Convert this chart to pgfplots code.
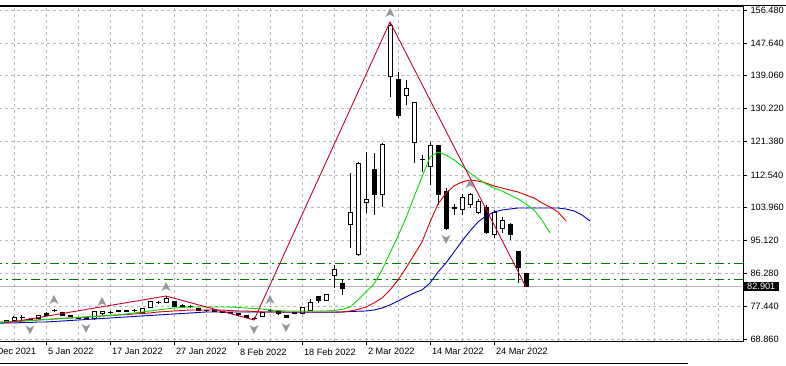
\documentclass[border=0pt]{standalone}
\usepackage{pgfplots}
\pgfplotsset{compat=1.18}
\usepackage{pgfplotstable}
\usepackage{fontspec}
\setmainfont{Liberation Sans}
\definecolor{gridc}{RGB}{185,185,185}
\definecolor{lipsc}{RGB}{0,220,0}
\definecolor{teethc}{RGB}{215,0,0}
\definecolor{jawc}{RGB}{0,0,185}
\definecolor{zzc}{RGB}{200,0,40}
\definecolor{levc}{RGB}{0,125,0}
\definecolor{fracc}{RGB}{150,150,160}
\newcommand{\tf}{\fontsize{9.2}{11}\selectfont}
\pgfdeclareplotmark{fup}{%
  \pgfpathmoveto{\pgfqpoint{0pt}{5pt}}%
  \pgfpathlineto{\pgfqpoint{4.5pt}{-4pt}}%
  \pgfpathlineto{\pgfqpoint{0pt}{-1.5pt}}%
  \pgfpathlineto{\pgfqpoint{-4.5pt}{-4pt}}%
  \pgfpathclose\pgfusepathqfill}
\pgfdeclareplotmark{fdown}{%
  \pgfpathmoveto{\pgfqpoint{0pt}{-5pt}}%
  \pgfpathlineto{\pgfqpoint{4.5pt}{4pt}}%
  \pgfpathlineto{\pgfqpoint{0pt}{1.5pt}}%
  \pgfpathlineto{\pgfqpoint{-4.5pt}{4pt}}%
  \pgfpathclose\pgfusepathqfill}

\pgfplotstableread{
i O H L C
-5 73.25 73.92 73.12 73.79
-4 73.73 74.99 73.65 74.53
-3 74.60 75.25 73.92 74.68
-2 74.08 74.45 73.79 74.14
-1 74.37 75.12 74.32 74.99
0 75.70 76.13 75.12 75.25
1 76.35 76.85 75.92 76.45
2 75.97 76.13 74.99 75.07
3 75.05 75.20 74.80 74.95
4 74.45 74.60 74.20 74.35
5 74.50 74.60 74.20 74.30
6 74.19 76.32 74.05 76.13
7 75.52 76.32 75.38 76.13
8 75.93 76.40 75.60 76.01
9 76.05 76.70 75.95 76.58
10 76.58 76.70 75.95 76.05
11 76.36 76.80 76.00 76.44
12 75.97 77.20 75.85 77.04
13 77.20 78.90 77.10 78.79
14 78.49 78.90 78.10 78.57
15 78.53 80.31 78.40 79.70
16 78.79 79.00 77.30 77.46
17 77.91 78.10 77.20 77.30
18 77.42 77.80 77.10 77.50
19 76.85 77.00 76.30 76.40
20 76.36 76.70 76.10 76.44
21 76.77 76.90 76.00 76.13
22 76.25 76.40 75.90 76.00
23 76.00 76.10 75.60 75.75
24 75.60 75.80 75.10 75.30
25 75.00 75.20 74.40 74.60
26 74.30 74.80 73.92 74.20
27 74.72 75.90 74.60 75.86
28 76.35 76.90 76.00 76.45
29 76.13 76.30 75.30 75.52
30 74.99 75.20 74.40 74.64
31 75.52 76.00 75.40 75.86
32 75.52 77.30 75.40 77.12
33 76.58 79.51 76.50 78.45
34 80.05 80.31 78.45 78.98
35 78.98 80.71 78.85 80.58
36 85.90 88.57 82.44 87.24
37 83.51 84.84 80.58 82.44
38 99.22 113.07 93.10 102.68
39 91.23 116.00 90.96 115.73
40 105.08 118.66 102.42 105.88
41 114.13 118.39 101.88 107.21
42 107.21 121.06 104.02 120.79
43 138.64 153.28 133.31 152.48
44 138.10 139.97 127.72 128.25
45 133.84 137.83 131.20 135.70
46 121.06 131.98 115.73 131.71
47 116.60 117.86 113.33 116.72
48 114.93 121.32 109.87 120.26
49 120.26 120.53 104.55 107.21
50 108.01 109.07 97.89 98.42
51 103.70 104.81 101.88 103.80
52 103.48 107.47 101.88 106.41
53 104.81 107.74 103.75 107.21
54 102.68 106.14 102.15 105.61
55 103.75 104.55 96.82 97.09
56 96.56 103.22 95.76 102.42
57 98.42 101.35 97.09 100.29
58 99.22 99.75 95.23 96.56
59 92.03 92.03 83.77 87.77
60 86.17 86.17 82.70 82.90
}\candles

\pgfplotstableread{
i v
-6 73.30
-5 73.39
-4 73.52
-3 73.65
-2 73.79
-1 73.92
0 74.05
1 74.19
2 74.32
3 74.45
4 74.59
5 74.72
6 74.85
7 74.99
8 75.12
9 75.25
10 75.52
11 75.78
12 76.05
13 76.32
14 76.58
15 76.85
16 77.12
17 77.25
18 77.38
19 77.38
20 77.38
21 77.38
22 77.38
23 77.38
24 77.25
25 77.12
26 76.98
27 76.85
28 76.58
29 76.45
30 76.32
31 76.32
32 76.32
33 76.32
34 76.32
35 76.32
36 76.45
37 76.72
38 77.38
39 79.25
40 81.38
41 83.51
42 87.24
43 91.76
44 96.29
45 101.08
46 106.68
47 112.00
48 117.33
49 118.66
50 117.86
51 116.53
52 114.93
53 113.07
54 111.47
55 110.14
56 109.07
57 108.28
58 107.21
59 106.15
60 104.81
61 103.22
62 100.55
63 97.09
}\lips

\pgfplotstableread{
i v
-6 73.30
-5 73.39
-4 73.52
-3 73.65
-2 73.79
-1 73.92
0 74.05
1 74.19
2 74.32
3 74.45
4 74.59
5 74.72
6 74.85
7 74.99
8 75.12
9 75.25
10 75.39
11 75.52
12 75.65
13 75.78
14 76.05
15 76.18
16 76.32
17 76.45
18 76.58
19 76.58
20 76.58
21 76.58
22 76.58
23 76.45
24 76.32
25 76.32
26 76.18
27 76.05
28 76.05
29 76.05
30 76.05
31 76.05
32 76.05
33 76.05
34 76.05
35 76.05
36 76.05
37 76.05
38 76.32
39 76.72
40 77.38
41 78.45
42 79.78
43 81.91
44 84.57
45 87.77
46 91.23
47 94.69
48 100.02
49 104.81
50 107.74
51 109.61
52 110.67
53 111.21
54 110.94
55 110.41
56 109.61
57 109.07
58 108.54
59 108.01
60 107.21
61 106.41
62 105.08
63 104.01
64 102.68
65 100.29
}\teeth

\pgfplotstableread{
i v
-6 73.05
-5 73.12
-4 73.12
-3 73.25
-2 73.25
-1 73.39
0 73.39
1 73.52
2 73.65
3 73.79
4 73.92
5 74.05
6 74.19
7 74.32
8 74.45
9 74.59
10 74.72
11 74.85
12 74.99
13 75.12
14 75.25
15 75.39
16 75.52
17 75.65
18 75.78
19 75.92
20 76.05
21 76.05
22 76.05
23 76.05
24 76.05
25 76.05
26 76.05
27 76.05
28 76.05
29 76.05
30 75.98
31 75.98
32 75.98
33 75.98
34 75.98
35 75.98
36 75.98
37 76.05
38 76.18
39 76.25
40 76.32
41 76.58
42 77.12
43 77.92
44 78.98
45 80.05
46 81.11
47 81.91
48 83.77
49 86.70
50 89.10
51 92.03
52 94.96
53 97.62
54 100.02
55 101.62
56 102.68
57 103.22
58 103.48
59 103.75
60 103.75
61 103.75
62 103.75
63 103.75
64 103.75
65 103.48
66 102.95
67 101.88
68 100.29
}\jaw

\pgfplotstableread{
i v
1 76.85
7 76.32
15 80.31
28 76.90
43 153.28
53 107.74
}\fracup

\pgfplotstableread{
i v
-2 73.79
5 74.20
26 73.92
30 74.40
50 97.89
}\fracdown

\pgfplotsset{
  base/.style={
    scale only axis, width=762pt, height=335pt,
    xmin=-8.125, xmax=87.125, ymin=68.327, ymax=157.545,
    at={(-19pt,25pt)}, anchor=south west},
}

\begin{document}
\begin{tikzpicture}
\useasboundingbox (0,0) rectangle (786pt,366pt);
\begin{axis}[base,
  axis line style={black, line width=0.9pt},
  xtick={-8,0,8,16,24,32,40,48,56},
  xticklabels={24 Dec 2021, 5 Jan 2022, 17 Jan 2022, 27 Jan 2022, 8 Feb 2022, 18 Feb 2022, 2 Mar 2022, 14 Mar 2022, 24 Mar 2022},
  minor xtick={-4,4,12,20,28,36,44,52,60,64,68,72,76,80,84},
  ytick={68.86,77.44,86.28,95.12,103.96,112.54,121.38,130.22,139.06,147.64,156.48},
  yticklabels={68.860,77.440,86.280,95.120,103.960,112.540,121.380,130.220,139.060,147.640,156.480},
  xtick pos=bottom, ytick pos=right, yticklabel pos=right,
  tick align=outside, major tick length=4pt, minor tick length=0pt,
  tick style={black, line width=0.6pt},
  xmajorgrids, xminorgrids, ymajorgrids,
  grid style={gridc, dash pattern=on 3pt off 3pt, line width=0.6pt},
  minor grid style={gridc, dash pattern=on 3pt off 3pt, line width=0.6pt},
  xticklabel style={font=\tf, anchor=north west, xshift=-1.5pt},
  yticklabel style={font=\tf},
  extra y ticks={82.901}, extra y tick labels={82.901},
  extra y tick style={grid=none, major tick length=0pt,
    yticklabel style={fill=black, text=white, inner xsep=4pt, inner ysep=1pt}},
]
\addplot[levc, line width=0.9pt, dash pattern=on 9pt off 4pt on 2pt off 4pt] coordinates {(-9,89.10) (88,89.10)};
\addplot[levc, line width=0.9pt, dash pattern=on 9pt off 4pt on 2pt off 4pt] coordinates {(-9,84.84) (88,84.84)};
\addplot[gray!55, line width=0.8pt] coordinates {(-9,82.901) (88,82.901)};
\addplot[draw=none, mark=none, error bars/.cd, y dir=plus, y explicit, error mark=none,
  error bar style={draw=black, solid, line width=1pt}]
  table[x=i, y=L, y error expr=\thisrow{H}-\thisrow{L}] \candles;
\end{axis}
\begin{axis}[base, hide axis, ybar stacked, bar width=4pt]
\addplot[draw=none, fill=none] table[x=i, y expr={min(\thisrow{O},\thisrow{C})}] \candles;
\addplot[draw=black, fill=white, line width=1pt] table[x=i, y expr={max(\thisrow{C}-\thisrow{O},0)}] \candles;
\addplot[draw=black, fill=black, line width=1pt] table[x=i, y expr={max(\thisrow{O}-\thisrow{C},0)}] \candles;
\end{axis}
\begin{axis}[base, hide axis]
\addplot[jawc, line width=0.9pt] table[x=i, y=v] \jaw;
\addplot[teethc, line width=0.9pt] table[x=i, y=v] \teeth;
\addplot[lipsc, line width=0.9pt] table[x=i, y=v] \lips;
\addplot[zzc, line width=0.9pt] coordinates {(-5,73.12) (15,80.31) (26,73.92) (43,153.28) (60,82.70)};
\addplot[only marks, mark=fup, mark options={fill=fracc, draw=none, yshift=9pt}] table[x=i, y=v] \fracup;
\addplot[only marks, mark=fdown, mark options={fill=fracc, draw=none, yshift=-9pt}] table[x=i, y=v] \fracdown;
\end{axis}
\draw[black, line width=1pt] (0,360.5pt) -- (786pt,360.5pt);
\draw[black, line width=1pt] (0,2.5pt) -- (688pt,2.5pt);
\end{tikzpicture}
\end{document}
